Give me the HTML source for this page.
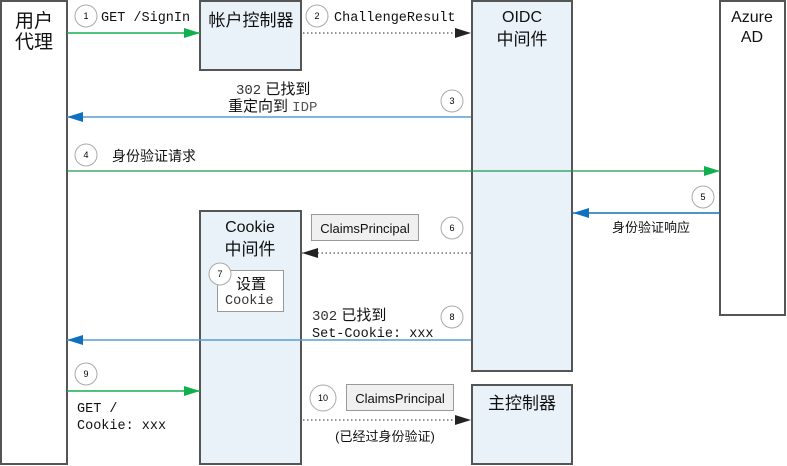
<!DOCTYPE html>
<html><head><meta charset="utf-8"><style>
html,body{margin:0;padding:0;background:#fff;}
svg{display:block;}
.s{font-family:"Liberation Sans","Noto Sans CJK SC",sans-serif;}
.m{font-family:"Liberation Mono","Noto Sans CJK SC",monospace;}
</style></head><body>
<svg width="787" height="466" viewBox="0 0 787 466" xmlns="http://www.w3.org/2000/svg">
<defs>
<marker id="g" markerWidth="16" markerHeight="10" refX="16" refY="5" orient="auto" markerUnits="userSpaceOnUse"><path d="M0,0 L16,5 L0,10z" fill="#10b050"/></marker>
<marker id="b" markerWidth="16" markerHeight="10" refX="16" refY="5" orient="auto" markerUnits="userSpaceOnUse"><path d="M0,0 L16,5 L0,10z" fill="#1070c0"/></marker>
<marker id="k" markerWidth="16" markerHeight="10" refX="16" refY="5" orient="auto" markerUnits="userSpaceOnUse"><path d="M0,0 L16,5 L0,10z" fill="#222"/></marker>
</defs>
<g stroke="#555" stroke-width="2">
<rect x="1" y="1" width="66" height="463" fill="#fff"/>
<rect x="200" y="1" width="101" height="69" fill="#e8f2f8"/>
<rect x="472" y="1" width="100" height="370" fill="#e8f2f8"/>
<rect x="720" y="1" width="65" height="314" fill="#fff"/>
<rect x="200" y="211" width="101" height="253" fill="#e8f2f8"/>
<rect x="472" y="385" width="100" height="79" fill="#e8f2f8"/>
</g>
<g class="s" font-size="16" text-anchor="middle" fill="#111">
<text x="34" y="27" font-size="19">用户</text><text x="34" y="48" font-size="19">代理</text>
<text x="251" y="26" font-size="17">帐户控制器</text>
<text x="522" y="22">OIDC</text><text x="522" y="45" font-size="17">中间件</text>
<text x="752" y="22">Azure</text><text x="752" y="42">AD</text>
<text x="250" y="232">Cookie</text><text x="250" y="255" font-size="17">中间件</text>
<text x="522" y="409" font-size="17">主控制器</text>
</g>
<line x1="67" y1="33" x2="200" y2="33" stroke="#10b050" stroke-width="1.5" marker-end="url(#g)"/>
<line x1="303" y1="33" x2="471" y2="33" stroke="#555" stroke-width="1.2" stroke-dasharray="1.5,2.5" marker-end="url(#k)"/>
<line x1="471" y1="117" x2="67" y2="117" stroke="#5b9bd5" stroke-width="1.5" marker-end="url(#b)"/>
<line x1="67" y1="171" x2="720" y2="171" stroke="#1a9a50" stroke-width="1.2" marker-end="url(#g)"/>
<line x1="720" y1="213" x2="573" y2="213" stroke="#1070c0" stroke-width="1.5" marker-end="url(#b)"/>
<line x1="471" y1="253" x2="302" y2="253" stroke="#555" stroke-width="1.2" stroke-dasharray="1.5,2.5" marker-end="url(#k)"/>
<line x1="471" y1="340" x2="67" y2="340" stroke="#5b9bd5" stroke-width="1.5" marker-end="url(#b)"/>
<line x1="67" y1="391" x2="200" y2="391" stroke="#10b050" stroke-width="1.5" marker-end="url(#g)"/>
<line x1="303" y1="420" x2="471" y2="420" stroke="#555" stroke-width="1.2" stroke-dasharray="1.5,2.5" marker-end="url(#k)"/>
<g fill="#fff" stroke="#aaa" stroke-width="1">
<circle cx="86" cy="16" r="11"/><circle cx="317" cy="16" r="11"/><circle cx="452" cy="101" r="11"/>
<circle cx="86" cy="155" r="11"/><circle cx="703" cy="197" r="11"/><circle cx="452" cy="228" r="11"/>
<circle cx="452" cy="317" r="11"/><circle cx="86" cy="374" r="11"/><circle cx="323" cy="398" r="13"/>
</g>
<g class="s" font-size="9" text-anchor="middle" fill="#000">
<text x="86" y="19">1</text><text x="317" y="19">2</text><text x="452" y="104">3</text>
<text x="86" y="158">4</text><text x="703" y="200">5</text><text x="452" y="231">6</text>
<text x="452" y="320">8</text><text x="86" y="377">9</text><text x="323" y="401">10</text>
</g>
<rect x="311.5" y="214.5" width="107" height="26" fill="#f0f0f0" stroke="#999"/>
<rect x="346.5" y="384.5" width="107" height="26" fill="#f0f0f0" stroke="#999"/>
<rect x="217.5" y="270.5" width="66" height="41" fill="#fff" stroke="#999"/>
<circle cx="220" cy="274" r="11" fill="#fff" stroke="#aaa"/>
<text class="s" x="220" y="277" font-size="9" text-anchor="middle">7</text>
<g class="s" font-size="13" fill="#111">
<text x="365" y="233" text-anchor="middle">ClaimsPrincipal</text>
<text x="400" y="403" text-anchor="middle">ClaimsPrincipal</text>
<text x="251" y="289" text-anchor="middle" font-size="15">设置</text>
<text x="112" y="161" font-size="14">身份验证请求</text>
<text x="612" y="232">身份验证响应</text>
<text x="385" y="441" text-anchor="middle">(已经过身份验证)</text>
<text x="236" y="94" font-size="15"><tspan class="m" font-size="14" fill="#333">302</tspan> 已找到</text>
<text x="228" y="111" font-size="15">重定向到 <tspan class="m" font-size="14" fill="#555">IDP</tspan></text>
<text x="312" y="320" font-size="15"><tspan class="m" font-size="14" fill="#333">302</tspan> 已找到</text>
</g>
<g class="m" font-size="13.5" fill="#111">
<text x="101" y="21">GET /SignIn</text>
<text x="334" y="21">ChallengeResult</text>
<text x="225" y="304" fill="#333">Cookie</text>
<text x="312" y="337">Set-Cookie: xxx</text>
<text x="77" y="412">GET /</text>
<text x="77" y="429">Cookie: xxx</text>
</g>
</svg>
</body></html>
